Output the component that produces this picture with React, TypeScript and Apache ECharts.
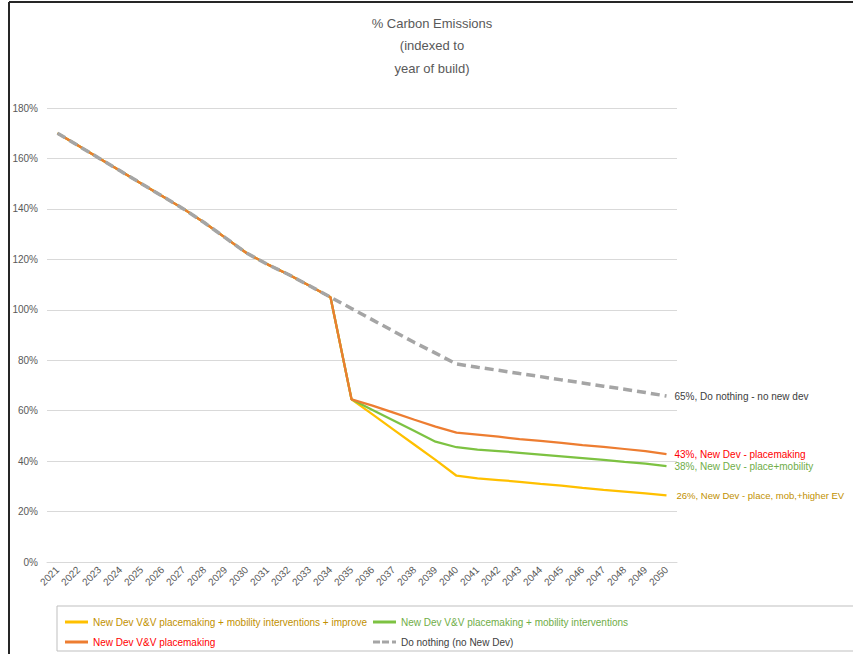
import React, { useEffect, useRef } from "react";
import * as echarts from "echarts";

const years = [
  "2021", "2022", "2023", "2024", "2025", "2026", "2027", "2028", "2029", "2030",
  "2031", "2032", "2033", "2034", "2035", "2036", "2037", "2038", "2039", "2040",
  "2041", "2042", "2043", "2044", "2045", "2046", "2047", "2048", "2049", "2050",
];

const yellowName = "New Dev V&V placemaking + mobility interventions + improve";
const greenName = "New Dev V&V placemaking + mobility interventions";
const orangeName = "New Dev V&V placemaking";
const grayName = "Do nothing (no New Dev)";

const yellowValues = [
  170, 165, 160, 155, 150, 145, 140, 134.5, 128.5, 122.5, 118, 114, 109.5, 105,
  64.5, 58.5, 52.5, 46.5, 40.5, 34.2, 33.2, 32.5, 31.8, 31, 30.3, 29.4, 28.6, 27.9, 27.2, 26.4,
];
const greenValues = [
  170, 165, 160, 155, 150, 145, 140, 134.5, 128.5, 122.5, 118, 114, 109.5, 105,
  64.5, 60.3, 56.1, 51.9, 47.7, 45.5, 44.6, 44, 43.3, 42.6, 41.9, 41.2, 40.5, 39.7, 39, 38,
];
const orangeValues = [
  170, 165, 160, 155, 150, 145, 140, 134.5, 128.5, 122.5, 118, 114, 109.5, 105,
  64.5, 62, 59.2, 56.4, 53.7, 51.3, 50.5, 49.7, 48.7, 48, 47.2, 46.3, 45.6, 44.8, 44, 42.8,
];
const grayValues = [
  170, 165, 160, 155, 150, 145, 140, 134.5, 128.5, 122.5, 118, 114, 109.5, 105,
  100.5, 96, 91.5, 87, 82.8, 78.5, 77.2, 76, 74.7, 73.5, 72.2, 71, 69.7, 68.5, 67.2, 65.8,
];

const endLabels = {
  yellow: "26%, New Dev - place, mob,+higher EV",
  green: "38%, New Dev - place+mobility",
  orange: "43%, New Dev - placemaking",
  gray: "65%, Do nothing - no new dev",
};

const FONT = "'Liberation Sans', Arial, sans-serif";
const SOLID_ICON = "path://M0,0H23V3H0Z";
const DASH_ICON = "path://M0,0H7V3H0ZM9,0H16V3H9ZM19,0H23V3H19Z";

export default function App() {
  const ref = useRef<HTMLDivElement>(null);
  useEffect(() => {
    if (!ref.current) return;
    const chart = echarts.init(ref.current, null, { renderer: "svg" });
    const mkSeries = (name: string, data: number[], color: string, width: number, dashed: boolean, label: string, labelColor: string, dist: number, size: number) => ({
      name,
      type: "line",
      data,
      symbol: "none",
      lineStyle: { color, width, type: dashed ? [9, 5] : "solid", cap: "butt" },
      itemStyle: { color },
      endLabel: {
        show: true,
        formatter: () => label,
        color: labelColor,
        fontSize: size,
        fontFamily: FONT,
        distance: dist,
      },
    });
    const legendCommon = {
      orient: "vertical",
      top: 612,
      itemWidth: 23,
      itemHeight: 3,
      itemGap: 10,
      symbolKeepAspect: false,
      textStyle: { fontSize: 10, fontFamily: FONT },
    };
    chart.setOption({
      animation: false,
      title: {
        text: "% Carbon Emissions\n(indexed to\nyear of build)",
        left: 427,
        textAlign: "center",
        top: 7,
        textStyle: {
          color: "#595959",
          fontSize: 13,
          fontWeight: "normal",
          fontFamily: FONT,
          lineHeight: 22.5,
        },
      },
      grid: { left: 47, right: 176, top: 108, bottom: 92 },
      xAxis: {
        type: "category",
        data: years,
        boundaryGap: true,
        axisLine: { lineStyle: { color: "#d9d9d9" } },
        axisTick: { show: false },
        axisLabel: {
          rotate: 45,
          interval: 0,
          color: "#595959",
          fontSize: 10,
          fontFamily: FONT,
          margin: 6,
        },
      },
      yAxis: {
        type: "value",
        min: 0,
        max: 180,
        interval: 20,
        axisLine: { show: false },
        axisTick: { show: false },
        splitLine: { lineStyle: { color: "#d9d9d9" } },
        axisLabel: {
          formatter: "{value}%",
          color: "#595959",
          fontSize: 10,
          fontFamily: FONT,
          margin: 9,
        },
      },
      legend: [
        {
          ...legendCommon,
          left: 60,
          data: [
            { name: yellowName, icon: SOLID_ICON, textStyle: { color: "#BF9000" } },
            { name: orangeName, icon: SOLID_ICON, textStyle: { color: "#FF0000" } },
          ],
        },
        {
          ...legendCommon,
          left: 368,
          data: [
            { name: greenName, icon: SOLID_ICON, textStyle: { color: "#70AD47" } },
            { name: grayName, icon: DASH_ICON, textStyle: { color: "#404040" } },
          ],
        },
      ],
      graphic: [
        {
          type: "rect",
          shape: { x: 57, y: 606, width: 900, height: 45 },
          style: { fill: "none", stroke: "#bfbfbf", lineWidth: 1 },
          silent: true,
        },
        {
          type: "line",
          shape: { x1: 9, y1: 2, x2: 853, y2: 2 },
          style: { stroke: "#262626", lineWidth: 2 },
          silent: true,
        },
        {
          type: "line",
          shape: { x1: 9, y1: 2, x2: 9, y2: 654 },
          style: { stroke: "#262626", lineWidth: 2 },
          silent: true,
        },
      ],
      series: [
        mkSeries(yellowName, yellowValues, "#FFC000", 2.25, false, endLabels.yellow, "#BF9000", 10, 9.5),
        mkSeries(greenName, greenValues, "#7DC242", 2.25, false, endLabels.green, "#70AD47", 8, 10),
        mkSeries(orangeName, orangeValues, "#ED7D31", 2.25, false, endLabels.orange, "#FF0000", 8, 10),
        mkSeries(grayName, grayValues, "#A5A5A5", 3.5, true, endLabels.gray, "#404040", 8, 10),
      ],
    });
    return () => chart.dispose();
  }, []);
  return (
    <div
      ref={ref}
      style={{ position: "fixed", left: 0, top: 0, width: 853, height: 654, background: "#fff" }}
    />
  );
}
